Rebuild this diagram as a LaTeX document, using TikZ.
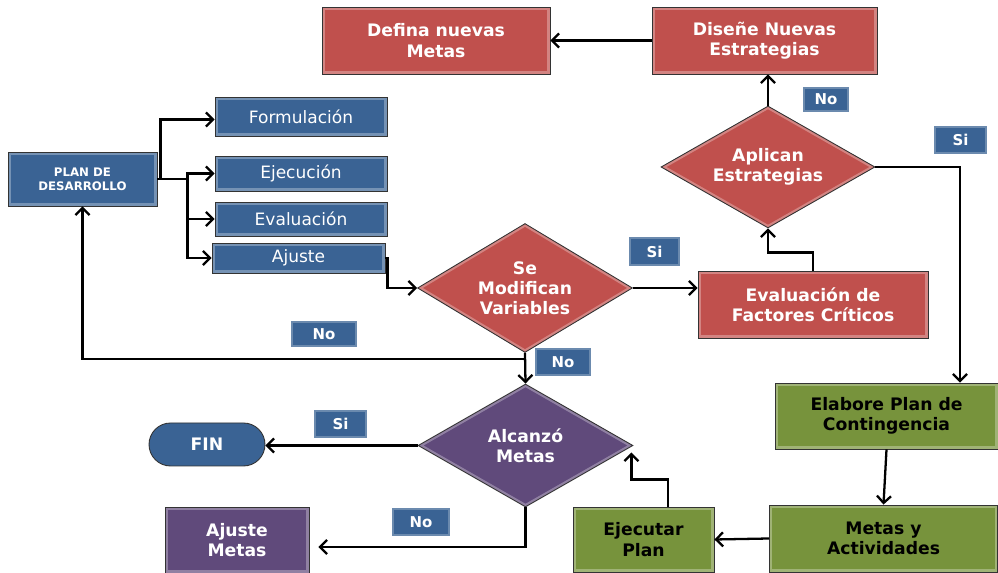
\documentclass[tikz,border=0pt]{standalone}
\usepackage{fontspec}
\setmainfont{DejaVu Sans}
\usetikzlibrary{shapes.geometric,arrows.meta}
\definecolor{azul}{HTML}{3A6394}
\definecolor{rojo}{HTML}{C0504D}
\definecolor{verde}{HTML}{77933C}
\definecolor{morado}{HTML}{604A7B}

\begin{document}
\begin{tikzpicture}[x=0.02cm,y=-0.02cm]
\tikzset{caja/.style={draw=black!80, line width=0.5pt, rectangle, inner sep=1pt, align=center, text=white, font=\bfseries\fontsize{9.8}{11.5}\selectfont,
  path picture={\draw[white, opacity=0.3, line width=3pt] (path picture bounding box.south west) rectangle (path picture bounding box.north east);}},
rombo/.style={draw=black!80, line width=0.5pt, diamond, inner sep=0pt, align=center, text=white, font=\bfseries\fontsize{9.8}{11.5}\selectfont,
  path picture={\draw[white, opacity=0.3, line width=3pt] (path picture bounding box.north) -- (path picture bounding box.east) -- (path picture bounding box.south) -- (path picture bounding box.west) -- cycle;}},
etiq/.style={fill=azul, text=white, inner sep=0pt, font=\bfseries\fontsize{8.5}{10}\selectfont,
  path picture={\draw[white, opacity=0.25, line width=2pt] (path picture bounding box.south west) rectangle (path picture bounding box.north east);}},
flecha/.style={line width=1.3pt, -{Straight Barb[length=4pt,width=8pt]}}}
\useasboundingbox (0,0) rectangle (998,573);
% bloque azul
\node[caja, fill=azul, minimum width=2.98cm, minimum height=1.08cm, font=\bfseries\fontsize{6.7}{8}\selectfont] (plan) at (82.5,179) {PLAN DE\\DESARROLLO};
\node[caja, fill=azul, minimum width=3.44cm, minimum height=0.78cm, font=\fontsize{9.7}{11}\selectfont] (form) at (301,116.5) {Formulación};
\node[caja, fill=azul, minimum width=3.44cm, minimum height=0.70cm, font=\fontsize{9.7}{11}\selectfont] (ejec) at (301,173.5) {Ejecución};
\node[caja, fill=azul, minimum width=3.44cm, minimum height=0.68cm, font=\fontsize{9.7}{11}\selectfont] (eval) at (301,219) {Evaluación};
\node[caja, fill=azul, minimum width=3.46cm, minimum height=0.60cm, font=\fontsize{9.7}{11}\selectfont] (ajus) at (298.5,258) {Ajuste};
% bloque rojo
\node[rombo, fill=rojo, aspect=1.67, minimum width=4.30cm, minimum height=2.58cm] (modif) at (525,288) {Se\\Modifican\\Variables};
\node[caja, fill=rojo, minimum width=4.60cm, minimum height=1.34cm] (evalf) at (813,304.5) {Evaluación de\\Factores Críticos};
\node[rombo, fill=rojo, aspect=1.75, minimum width=4.28cm, minimum height=2.44cm] (aplic) at (768,167) {Aplican\\Estrategias};
\node[caja, fill=rojo, minimum width=4.50cm, minimum height=1.34cm] (disen) at (764.5,40.5) {Diseñe Nuevas\\Estrategias};
\node[caja, fill=rojo, minimum width=4.56cm, minimum height=1.34cm] (defin) at (436,40.5) {Defina nuevas\\Metas};
% bloque verde
\node[caja, fill=verde, text=black, minimum width=4.46cm, minimum height=1.32cm] (elab) at (886.5,416) {Elabore Plan de\\Contingencia};
\node[caja, fill=verde, text=black, minimum width=4.56cm, minimum height=1.34cm] (meta) at (883.5,538.5) {Metas y\\Actividades};
\node[caja, fill=verde, text=black, minimum width=2.82cm, minimum height=1.30cm] (ejecp) at (643.5,539.5) {Ejecutar\\Plan};
% bloque morado
\node[rombo, fill=morado, aspect=1.75, minimum width=4.30cm, minimum height=2.46cm] (alc) at (525.5,445.5) {Alcanzó\\Metas};
\node[caja, fill=azul, rounded corners=0.43cm, minimum width=2.32cm, minimum height=0.86cm, path picture={}] (fin) at (207,444.5) {FIN};
\node[caja, fill=morado, minimum width=2.88cm, minimum height=1.32cm] (ajmet) at (237,540) {Ajuste\\Metas};
% etiquetas
\node[etiq, minimum width=1.32cm, minimum height=0.52cm] (no1) at (324,334) {No};
\node[etiq, minimum width=1.12cm, minimum height=0.56cm] (no2) at (563,362) {No};
\node[etiq, minimum width=1.06cm, minimum height=0.56cm] (si1) at (340.5,424) {Si};
\node[etiq, minimum width=1.16cm, minimum height=0.56cm] (no3) at (421,522) {No};
\node[etiq, minimum width=1.02cm, minimum height=0.58cm] (si2) at (654.5,251.5) {Si};
\node[etiq, minimum width=0.92cm, minimum height=0.50cm] (no4) at (826,99.5) {No};
\node[etiq, minimum width=1.06cm, minimum height=0.56cm] (si3) at (960.5,140) {Si};
% conectores
\draw[flecha] (plan.east) -- ++(3,0) |- ([yshift=-0.06cm]form.west);
\draw[flecha] (plan.east) -- ++(30,0) |- (ejec.west);
\draw[flecha] (plan.east) -- ++(30,0) |- (eval.west);
\draw[flecha] (plan.east) -- ++(30,0) |- (ajus.west);
\draw[flecha] (ajus.east) -- ++(2,0) |- (modif.west);
\draw[flecha] (modif.east) -- (modif.east -| evalf.west);
\draw[flecha] (evalf.north) -- ++(0,-18) -| (aplic.south);
\draw[flecha] (aplic.north) -- (aplic.north |- disen.south);
\draw[flecha] (disen.west) -- (defin.east);
\draw[flecha] (aplic.east) -| ([xshift=1.47cm]elab.north);
\draw[flecha] (elab.south) -- (meta.north);
\draw[flecha] (meta.west) -- (ejecp.east);
\draw[flecha] ([xshift=0.49cm]ejecp.north) -- ++(0,-27) -| ([xshift=-0.04cm,yshift=-0.14cm]alc.east);
\draw[flecha] (modif.south) -- (alc.north);
\draw[flecha] ([yshift=-0.12cm]modif.south) -| (plan.south);
\draw[flecha] (alc.west) -- (alc.west -| fin.east);
\draw[flecha] (alc.south) |- ([xshift=0.18cm,yshift=-0.14cm]ajmet.east);
\end{tikzpicture}
\end{document}
